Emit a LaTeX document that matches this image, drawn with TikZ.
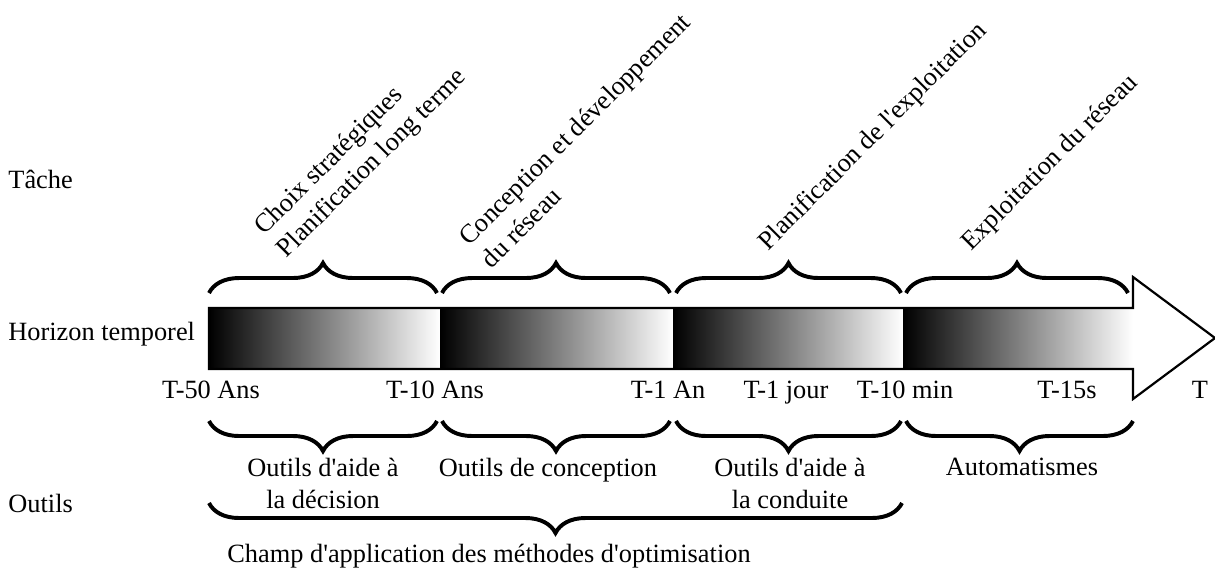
\documentclass[tikz,border=0pt]{standalone}
\usepackage{fontspec}
\setmainfont{Liberation Serif}[Ligatures=TeXOff]
\usetikzlibrary{decorations.pathreplacing}

\tikzset{
  brace/.style={decorate,decoration={brace,amplitude=0.48cm},line width=1.8pt},
  lbl/.style={inner sep=0pt,anchor=base},
  outil/.style={inner sep=0pt,anchor=north,align=center},
  tache/.style={inner sep=0pt,rotate=45,anchor=south west,align=left}
}

\begin{document}
\begin{tikzpicture}[x=0.016cm,y=-0.016cm,font=\fontsize{12}{14.5}\selectfont]
\useasboundingbox (0,0) rectangle (1215,570);

\begin{scope}
\foreach \n/\x in {0/209,1/440,2/673,3/903,4/1133} {
  \coordinate (h\n) at (\x,308);
  \coordinate (b\n) at (\x,369);
}
\foreach \a/\b in {0/1,1/2,2/3,3/4}
  \shade[left color=black,right color=white] (h\a) rectangle (b\b);

\draw[line width=1pt] (h0) -- (h4) -- (1133,277) coordinate (p1) -- (1215,338) coordinate (tip)
  -- (1133,399) coordinate (p2) -- (b4) -- (b0) -- cycle;
\end{scope}

% taches
\foreach \a/\b in {209/437,442/670,676/901,906/1128}
  \draw[brace] (\a,293) -- (\b,293);
\node[tache] (choix) at (291,263) {Choix stratégiques\\Planification long terme};
\node[tache] (conception) at (492,270) {Conception et développement\\du réseau};
\node[tache] (planif) at (772,256) {Planification de l'exploitation};
\node[tache] (exploit) at (975,256) {Exploitation du réseau};

% horizon
\foreach \x/\t [count=\i] in {211/T-50 Ans,435/T-10 Ans,668/T-1 An,786/T-1 jour,905/T-10 min,1067/T-15s,1200/T}
  \node[lbl] (t\i) at (\x,398) {\t};

% outils
\foreach \a/\b in {209/437,442/670,676/901,906/1133}
  \draw[brace,decoration={mirror}] (\a,421) -- (\b,421);
\draw[brace,decoration={mirror}] (209,503) -- (902,503);
\node[outil] (decision) at (323,458) {Outils d'aide à\\la décision};
\node[outil] (concept) at (548,458) {Outils de conception};
\node[outil] (conduite) at (790,458) {Outils d'aide à\\la conduite};
\node[outil] (auto) at (1022,458) {Automatismes};
\node[lbl] (champ) at (489,562) {Champ d'application des méthodes d'optimisation};

\node[lbl,anchor=base west] (tache) at (8,188) {Tâche};
\node[lbl,anchor=base west] (horizon) at (8,340) {Horizon temporel};
\node[lbl,anchor=base west] (outils) at (8,512) {Outils};

\end{tikzpicture}
\end{document}
